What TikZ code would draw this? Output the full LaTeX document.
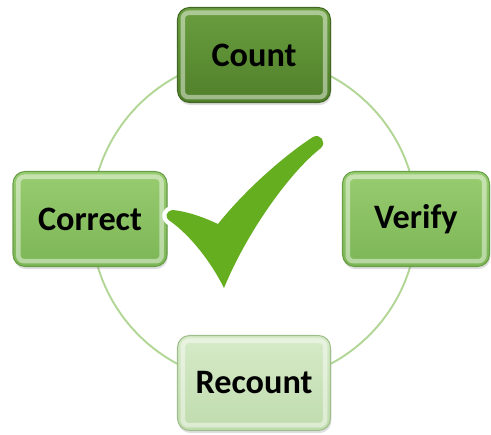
\documentclass[tikz,border=0pt]{standalone}
\usepackage{fontspec}
\setmainfont{Carlito}
\usetikzlibrary{shadows}

\definecolor{ringgreen}{RGB}{178,214,150}
\definecolor{checkgreen}{RGB}{101,174,32}
\definecolor{darktop}{RGB}{106,158,64}
\definecolor{darkbot}{RGB}{80,128,42}
\definecolor{darkline}{RGB}{66,104,36}
\definecolor{midtop}{RGB}{152,204,112}
\definecolor{midbot}{RGB}{124,182,86}
\definecolor{midline}{RGB}{104,158,70}
\definecolor{palecol}{RGB}{214,234,200}
\definecolor{palebot}{RGB}{192,220,174}
\definecolor{paleline}{RGB}{160,190,140}

\tikzset{
  stage/.style={rectangle, rounded corners=0.24cm, inner sep=0pt,
    minimum width=3.06cm, minimum height=1.9cm,
    font=\fontsize{19.5}{22}\selectfont\bfseries, text=black,
    line width=0.6pt,
    drop shadow={shadow xshift=0.5pt, shadow yshift=-1.5pt, opacity=0.25},
    path picture={
      % bevel highlight just inside the border
      \draw[white, opacity=0.45, line width=2.6pt, rounded corners=0.12cm]
        ([shift={(3pt,-3pt)}]path picture bounding box.north west) rectangle
        ([shift={(-3pt,3pt)}]path picture bounding box.south east);
    }},
  darkstage/.style={stage, top color=darktop, bottom color=darkbot, draw=darkline},
  midstage/.style={stage, top color=midtop, bottom color=midbot, draw=midline},
  palestage/.style={stage, top color=palecol, bottom color=palebot, draw=paleline}
}

\begin{document}
\begin{tikzpicture}[x=0.02cm, y=-0.02cm]
\useasboundingbox (0,0) rectangle (491,435);

% ring behind the boxes
\coordinate (hub) at (254,220);
\draw[ringgreen, line width=1.1pt] (hub) circle [radius=3.26cm];

% the four steps
\node[darkstage] (count) at (254,55) {Count};
\node[midstage, minimum width=2.94cm] (verify) at (416,219) {Verify};
\node[palestage] (recount) at (254,383) {Recount};
\node[midstage, minimum width=3.08cm] (correct) at (90,219) {Correct};

% tick in the middle
\path[preaction={draw=white, line width=5pt, line join=round}, fill=checkgreen]
  (173,210) .. controls (190,212) and (205,218) .. (218,224)
  .. controls (245,190) and (285,155) .. (313,137)
  .. controls (320,133) and (327,142) .. (321,148)
  .. controls (290,172) and (247,232) .. (224,288)
  .. controls (211,262) and (191,236) .. (170,221)
  .. controls (164,217) and (166,211) .. (173,210) -- cycle;

\end{tikzpicture}
\end{document}
